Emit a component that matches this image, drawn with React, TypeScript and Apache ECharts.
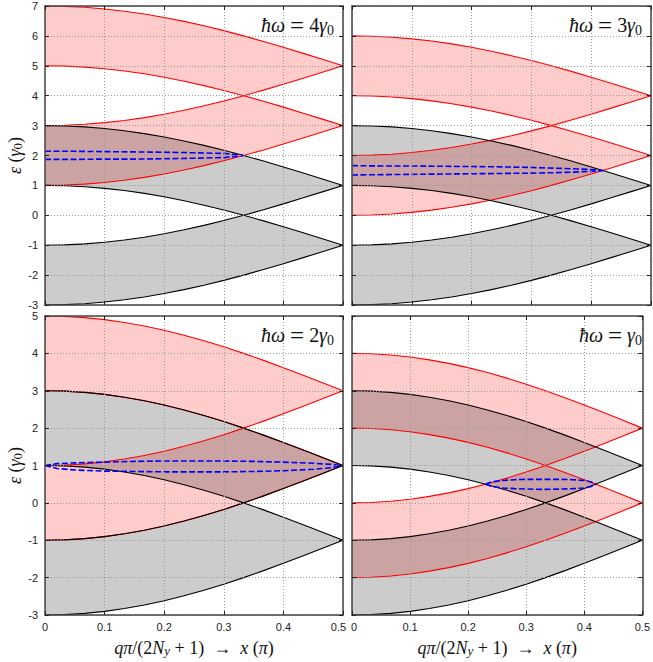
import React, { useEffect, useRef } from "react";
import * as echarts from "echarts";

// ---- data ----
const X_GRID = [0, 0.0333, 0.0667, 0.1, 0.1333, 0.1667, 0.2, 0.2333, 0.2667, 0.3, 0.3333, 0.3667, 0.4, 0.4333, 0.4667, 0.5];
// outer edge of the bulk band (3 -> 1) and inner crossing curve (1 -> -1)
const OUTER_EDGE = [3, 2.989, 2.956, 2.902, 2.827, 2.732, 2.618, 2.486, 2.338, 2.176, 2, 1.813, 1.618, 1.416, 1.209, 1];
const INNER_EDGE = [1, 0.989, 0.956, 0.902, 0.827, 0.732, 0.618, 0.486, 0.338, 0.176, 0, -0.187, -0.382, -0.584, -0.791, -1];

const PHOTON_ENERGY = [4, 3, 2, 1];
const PANEL_FACTOR = ["4", "3", "2", ""];
const Y_MIN = [-3, -3, -3, -3];
const Y_MAX = [7, 7, 5, 5];

// blue dashed (hybridised) curves, one pair per panel
const BLUE_X_4 = [0, 0.05, 0.1, 0.15, 0.2, 0.25, 0.3, 0.3333];
const BLUE_UP_4 = [2.14, 2.14, 2.13, 2.12, 2.11, 2.09, 2.07, 2.0];
const BLUE_LO_4 = [1.87, 1.87, 1.88, 1.88, 1.89, 1.91, 1.93, 2.0];

const BLUE_X_3 = [0, 0.05, 0.1, 0.15, 0.2, 0.25, 0.3, 0.35, 0.4, 0.42];
const BLUE_UP_3 = [1.66, 1.65, 1.65, 1.64, 1.63, 1.62, 1.6, 1.57, 1.53, 1.5];
const BLUE_LO_3 = [1.35, 1.36, 1.37, 1.38, 1.39, 1.4, 1.41, 1.43, 1.47, 1.5];

const BLUE_X_2 = [0, 0.02, 0.05, 0.1, 0.15, 0.2, 0.25, 0.3, 0.35, 0.4, 0.45, 0.48, 0.5];
const BLUE_UP_2 = [1.0, 1.05, 1.07, 1.09, 1.11, 1.12, 1.12, 1.12, 1.11, 1.09, 1.06, 1.03, 1.0];
const BLUE_LO_2 = [1.0, 0.92, 0.88, 0.85, 0.84, 0.83, 0.83, 0.83, 0.84, 0.86, 0.9, 0.94, 1.0];

const BLUE_X_1 = [0.23, 0.24, 0.26, 0.28, 0.3, 0.33, 0.36, 0.38, 0.4, 0.412, 0.42];
const BLUE_UP_1 = [0.5, 0.56, 0.6, 0.62, 0.63, 0.63, 0.63, 0.62, 0.6, 0.56, 0.5];
const BLUE_LO_1 = [0.5, 0.44, 0.4, 0.38, 0.37, 0.36, 0.37, 0.38, 0.4, 0.44, 0.5];

const BLUE_X = [BLUE_X_4, BLUE_X_3, BLUE_X_2, BLUE_X_1];
const BLUE_UP = [BLUE_UP_4, BLUE_UP_3, BLUE_UP_2, BLUE_UP_1];
const BLUE_LO = [BLUE_LO_4, BLUE_LO_3, BLUE_LO_2, BLUE_LO_1];

// ---- styling ----
const SERIF = "'Liberation Serif', 'DejaVu Serif', serif";
const SANS = "'Liberation Sans', Arial, sans-serif";
const GRIDS = [
  { left: 45, top: 6, width: 298, height: 299 },
  { left: 352, top: 6, width: 299, height: 299 },
  { left: 45, top: 316, width: 298, height: 299 },
  { left: 352, top: 316, width: 299, height: 299 },
];

const NAME_FS = 18;
const RICH = {
  i: { fontFamily: SERIF, fontStyle: "italic", fontSize: NAME_FS, color: "#111" },
  n: { fontFamily: SERIF, fontSize: NAME_FS, color: "#111" },
  s: { fontFamily: SERIF, fontSize: 13, color: "#111", verticalAlign: "bottom" },
  si: { fontFamily: SERIF, fontStyle: "italic", fontSize: 13, color: "#111", verticalAlign: "bottom" },
};

function pairs(xs: number[], ys: number[]) {
  return xs.map((x, i) => [x, ys[i]]);
}

function bandSeries(g: number, xs: number[], lo: number[], hi: number[], fill: string, z: number) {
  return {
    type: "custom",
    xAxisIndex: g,
    yAxisIndex: g,
    silent: true,
    clip: true,
    z,
    data: [[xs[0], lo[0]]],
    renderItem: (_p: any, api: any) => {
      const pts: number[][] = [];
      for (let i = 0; i < xs.length; i++) pts.push(api.coord([xs[i], hi[i]]));
      for (let i = xs.length - 1; i >= 0; i--) pts.push(api.coord([xs[i], lo[i]]));
      return { type: "polygon", shape: { points: pts }, style: { fill, stroke: null } };
    },
  };
}

function lineSeries(g: number, xs: number[], ys: number[], color: string, z: number, dashed = false) {
  return {
    type: "line",
    xAxisIndex: g,
    yAxisIndex: g,
    data: pairs(xs, ys),
    showSymbol: false,
    silent: true,
    clip: true,
    z,
    lineStyle: dashed
      ? { color, width: 1.6, type: [6, 2.5] }
      : { color, width: 1.1 },
  };
}

function xLabelFormatter(g: number) {
  return (v: number) => {
    const t = String(Math.round(v * 10) / 10);
    if (g === 2 && v > 0.45) return "{r|" + t + "}";
    if (g === 3 && v < 0.05) return "{l|" + t + "}";
    return t;
  };
}

function buildOption() {
  const xAxis: any[] = [];
  const yAxis: any[] = [];
  const series: any[] = [];
  const graphic: any[] = [];
  const grid = GRIDS.map((g) => ({ ...g, containLabel: false }));

  const absInner = INNER_EDGE.map((v) => Math.abs(v));
  const negOuter = OUTER_EDGE.map((v) => -v);
  const negInner = INNER_EDGE.map((v) => -v);
  const negAbs = absInner.map((v) => -v);

  for (let g = 0; g < 4; g++) {
    const bottom = g >= 2;
    const left = g % 2 === 0;
    xAxis.push({
      type: "value",
      gridIndex: g,
      min: 0,
      max: 0.5,
      interval: 0.1,
      position: "bottom",
      z: 10,
      axisLine: { show: true, onZero: false, lineStyle: { color: "#444", width: 1.5 } },
      axisTick: { show: true, inside: true, length: 4, lineStyle: { color: "#222" } },
      axisLabel: {
        show: bottom,
        color: "#222",
        fontSize: 11,
        fontFamily: SANS,
        margin: 6,
        showMinLabel: true,
        showMaxLabel: true,
        formatter: xLabelFormatter(g),
        rich: {
          r: { fontSize: 11, fontFamily: SANS, color: "#222", padding: [0, 9, 0, 0] },
          l: { fontSize: 11, fontFamily: SANS, color: "#222", padding: [0, 0, 0, 4] },
        },
      },
      splitLine: { show: true, lineStyle: { color: "#999", type: [1, 2], width: 1 } },
      name: bottom ? "{i|qπ}{n|/(2}{i|N}{si|y}{n| + 1)  →  }{i|x}{n| (}{i|π}{n|)}" : "",
      nameLocation: "middle",
      nameGap: 24,
      nameTextStyle: { fontFamily: SERIF, fontSize: NAME_FS, color: "#111", rich: RICH },
    });
    yAxis.push({
      type: "value",
      gridIndex: g,
      min: Y_MIN[g],
      max: Y_MAX[g],
      interval: 1,
      position: "left",
      z: 10,
      axisLine: { show: true, onZero: false, lineStyle: { color: "#444", width: 1.5 } },
      axisTick: { show: true, inside: true, length: 4, lineStyle: { color: "#222" } },
      axisLabel: { show: left, color: "#222", fontSize: 11, fontFamily: SANS, margin: 7, showMinLabel: true, showMaxLabel: true },
      splitLine: { show: true, lineStyle: { color: "#999", type: [1, 2], width: 1 } },
      name: left ? "{i|ε}{n| (}{i|γ}{s|0}{n|)}" : "",
      nameLocation: "middle",
      nameGap: 21,
      nameTextStyle: { fontFamily: SERIF, fontSize: NAME_FS, color: "#111", rich: RICH },
    });
  }
  // mirrored axes (top / right) for the frame and inner ticks
  for (let g = 0; g < 4; g++) {
    xAxis.push({
      type: "value",
      gridIndex: g,
      min: 0,
      max: 0.5,
      interval: 0.1,
      position: "top",
      z: 10,
      axisLine: { show: true, onZero: false, lineStyle: { color: "#444", width: 1.5 } },
      axisTick: { show: true, inside: true, length: 4, lineStyle: { color: "#222" } },
      axisLabel: { show: false },
      splitLine: { show: false },
    });
    yAxis.push({
      type: "value",
      gridIndex: g,
      min: Y_MIN[g],
      max: Y_MAX[g],
      interval: 1,
      position: "right",
      z: 10,
      axisLine: { show: true, onZero: false, lineStyle: { color: "#444", width: 1.5 } },
      axisTick: { show: true, inside: true, length: 4, lineStyle: { color: "#222" } },
      axisLabel: { show: false },
      splitLine: { show: false },
    });
  }

  for (let g = 0; g < 4; g++) {
    const w = PHOTON_ENERGY[g];
    const sh = (arr: number[]) => arr.map((v) => v + w);
    // red (photon-dressed) bands first
    series.push(bandSeries(g, X_GRID, sh(absInner), sh(OUTER_EDGE), "rgba(255,0,0,0.2)", 2));
    series.push(bandSeries(g, X_GRID, sh(negOuter), sh(negAbs), "rgba(255,0,0,0.2)", 2));
    // grey bulk bands
    series.push(bandSeries(g, X_GRID, absInner, OUTER_EDGE, "rgba(0,0,0,0.2)", 3));
    series.push(bandSeries(g, X_GRID, negOuter, negAbs, "rgba(0,0,0,0.2)", 3));
    // red lines
    [OUTER_EDGE, INNER_EDGE, negOuter, negInner].forEach((c) => series.push(lineSeries(g, X_GRID, sh(c), "#ff0000", 4)));
    // black lines
    [OUTER_EDGE, INNER_EDGE, negOuter, negInner].forEach((c) => series.push(lineSeries(g, X_GRID, c, "#000000", 5)));
    // blue dashed
    series.push(lineSeries(g, BLUE_X[g], BLUE_UP[g], "#0000ff", 6, true));
    series.push(lineSeries(g, BLUE_X[g], BLUE_LO[g], "#0000ff", 6, true));

    const gr = GRIDS[g];
    graphic.push({
      type: "text",
      x: gr.left + gr.width - 9,
      y: gr.top + 19,
      z: 20,
      style: {
        text: "{i|ħω}{n| }{e|=}{n| " + PANEL_FACTOR[g] + "}{i|γ}{s|0}",
        align: "right",
        verticalAlign: "middle",
        fontFamily: SERIF,
        fontSize: 20,
        fill: "#111",
        rich: {
          i: { fontFamily: SERIF, fontStyle: "italic", fontSize: 20, fill: "#111" },
          n: { fontFamily: SERIF, fontSize: 20, fill: "#111" },
          e: { fontFamily: SERIF, fontSize: 25, fill: "#111" },
          s: { fontFamily: SERIF, fontSize: 14, fill: "#111", verticalAlign: "bottom" },
        },
      },
    });
  }

  return { animation: false, backgroundColor: "#ffffff", grid, xAxis, yAxis, series, graphic };
}

export default function App() {
  const ref = useRef<HTMLDivElement>(null);
  useEffect(() => {
    if (!ref.current) return;
    const chart = echarts.init(ref.current, undefined, { renderer: "svg" });
    chart.setOption(buildOption() as any);
    return () => chart.dispose();
  }, []);
  return (
    <div
      ref={ref}
      style={{ position: "absolute", left: 0, top: 0, width: 653, height: 662, background: "#fff" }}
    />
  );
}
